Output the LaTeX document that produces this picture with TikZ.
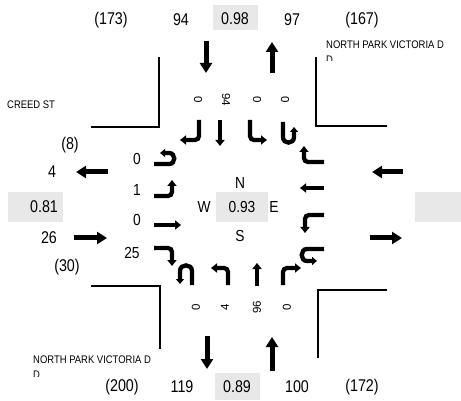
\documentclass[tikz,border=0pt]{standalone}
\usepackage{fontspec}
\setmainfont{Liberation Sans}
\usetikzlibrary{arrows.meta}
\begin{document}
\begin{tikzpicture}[x=1pt,y=-1pt,
  big/.style={font=\fontsize{17}{17}\selectfont, inner sep=0pt, xscale=0.84},
  lab/.style={font=\fontsize{16}{16}\selectfont, inner sep=0pt, xscale=0.86},
  street/.style={font=\fontsize{11}{11}\selectfont, inner sep=0pt, anchor=west, xscale=0.86},
  rotlab/.style={font=\fontsize{11.5}{11.5}\selectfont, inner sep=0pt},
  mainarrow/.style={line width=5pt, -{Triangle[width=12pt,length=10pt]}},
  turn/.style={line width=4.3pt, rounded corners=4pt, -{Triangle[width=9pt,length=6pt]}},
  turnU/.style={line width=4.3pt, -{Triangle[width=8pt,length=5pt]}},
  road/.style={line width=1.8pt},
  graybox/.style={fill=black!9, draw=none}
]
\useasboundingbox (0,0) rectangle (461,401);
% gray boxes
\fill[graybox] (213,5) rectangle (258,30);
\fill[graybox] (215,373) rectangle (260,400);
\fill[graybox] (8,192) rectangle (63,222);
\fill[graybox] (415,192) rectangle (461,222);
\fill[graybox] (216,192) rectangle (268,222);
% roads
\draw[road] (91,127) -- (159,127) -- (159,57);
\draw[road] (387,126) -- (316,126) -- (316,57);
\draw[road] (91,286) -- (160,286) -- (160,349);
\draw[road] (387,290) -- (318,290) -- (318,358);
% top labels
\node[big] (t1) at (111,20) {(173)};
\node[big] (t2) at (181,20) {94};
\node[big] (t3) at (235,19) {0.98};
\node[big] (t4) at (292,20) {97};
\node[big] (t5) at (362,20) {(167)};
% bottom labels
\node[big] (b1) at (122,387) {(200)};
\node[big] (b2) at (182,387) {119};
\node[big] (b3) at (237,387) {0.89};
\node[big] (b4) at (297,387) {100};
\node[big] (b5) at (362,387) {(172)};
% left labels
\node[big] (l1) at (70,145) {(8)};
\node[big] (l2) at (52,172) {4};
\node[big] (l3) at (44,207) {0.81};
\node[big] (l4) at (49,238) {26};
\node[big] (l5) at (67,267) {(30)};
% center
\node[lab] (cn) at (240,183) {N};
\node[lab] (cw) at (204,207) {W};
\node[lab] (cv) at (242,207) {0.93};
\node[lab] (ce) at (274,207) {E};
\node[lab] (cs) at (240,236) {S};
% street names
\node[street] (s1) at (7,105) {CREED ST};
\node[street] (s2) at (326,45) {NORTH PARK VICTORIA D};
\node[street] (s3) at (33,360) {NORTH PARK VICTORIA D};
\begin{scope}
\clip (320,53) rectangle (340,61);
\node[street] (s2b) at (326,60) {D};
\end{scope}
\begin{scope}
\clip (28,368) rectangle (50,376);
\node[street] (s3b) at (33,375) {D};
\end{scope}
% inner left numbers
\node[lab] (il1) at (137,159) {0};
\node[lab] (il2) at (137,190) {1};
\node[lab] (il3) at (137,220) {0};
\node[lab] (il4) at (132,253) {25};
% top rotated numbers
\node[rotlab, rotate=-90] (it1) at (198,100) {0};
\node[rotlab, rotate=-90] (it2) at (226,100) {94};
\node[rotlab, rotate=-90] (it3) at (257,100) {0};
\node[rotlab, rotate=-90] (it4) at (285,100) {0};
% bottom rotated numbers
\node[rotlab, rotate=90] (ib1) at (196,307) {0};
\node[rotlab, rotate=90] (ib2) at (225,307) {4};
\node[rotlab, rotate=90] (ib3) at (257,307) {96};
\node[rotlab, rotate=90] (ib4) at (287,307) {0};
% main approach arrows
\draw[mainarrow] (206,41) -- (206,73);
\draw[mainarrow] (272,73) -- (272,42);
\draw[mainarrow] (108,172) -- (76,172);
\draw[mainarrow] (74,238) -- (107,238);
\draw[mainarrow] (403,172) -- (372,172);
\draw[mainarrow] (370,238) -- (402,238);
\draw[mainarrow] (207,336) -- (207,369);
\draw[mainarrow] (272,371) -- (272,337);
% top approach turning arrows
\draw[turn] (199,120) -- (199,140) -- (180,140);
\draw[turn] (220,120) -- (220,146);
\draw[turn] (250,120) -- (250,140) -- (267,140);
\draw[turnU] (283,122) -- (283,137) .. controls (283,144.5) and (294,144.5) .. (294,137) -- (294,127);
% left approach
\draw[turnU] (154,164) -- (169,164) .. controls (176,164) and (176,153) .. (169,153) -- (160,153);
\draw[turn] (154,196) -- (172,196) -- (172,180);
\draw[turn] (154,225) -- (181,225);
\draw[turn] (154,248) -- (172,248) -- (172,266);
% right approach
\draw[turn] (324,162) -- (304,162) -- (304,146);
\draw[turn] (324,188) -- (300,188);
\draw[turn] (324,215) -- (305,215) -- (305,233);
\draw[turnU] (324,249) -- (307,249) .. controls (300,249) and (300,261) .. (307,261) -- (317,261);
% bottom approach
\draw[turnU] (192,285) -- (192,271) .. controls (192,263.5) and (180,263.5) .. (180,271) -- (180,284);
\draw[turn] (228,285) -- (228,268) -- (211,268);
\draw[turn] (257,286) -- (257,263);
\draw[turn] (283,285) -- (283,268) -- (301,268);
\end{tikzpicture}
\end{document}
